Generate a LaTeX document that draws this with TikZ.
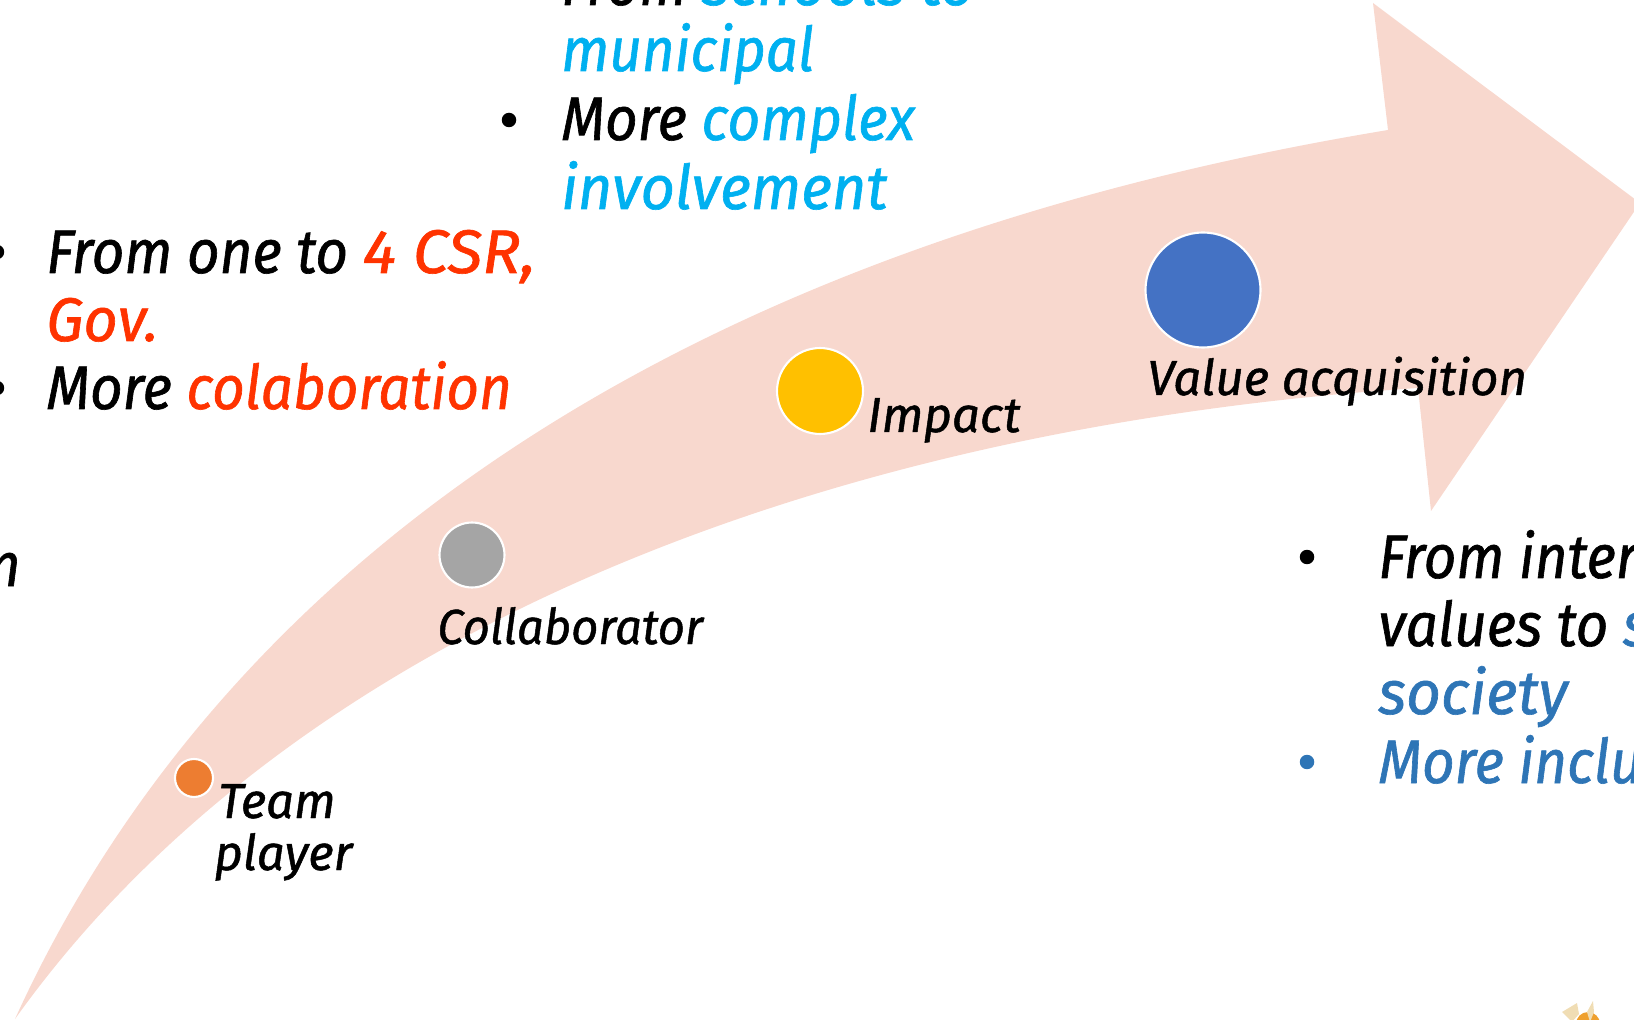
\documentclass[tikz,border=0pt]{standalone}
\usepackage{fontspec}
\setmainfont{Fira Sans}
\newfontfamily\bigfam[FakeStretch=0.92,FakeBold=1.0]{Fira Sans}
\newfontfamily\labfam[FakeBold=1.0]{Fira Sans}
\definecolor{arrowfill}{HTML}{F8D8CE}
\definecolor{cyanw}{HTML}{00B0F0}
\definecolor{redw}{HTML}{FF3300}
\definecolor{bluew}{HTML}{2E75B6}
\definecolor{tanw}{HTML}{F0DDB4}
\definecolor{goldw}{HTML}{EFA02E}
\definecolor{orangew}{HTML}{ED7D31}
\definecolor{grayw}{HTML}{A5A5A5}
\definecolor{yelloww}{HTML}{FFC000}
\definecolor{bluecirc}{HTML}{4472C4}
\newcommand{\wider}[2]{\scalebox{#1}[1]{#2}}
\tikzset{
 x=0.02cm,y=-0.02cm,
 big/.style={anchor=base west,inner sep=0pt,font=\bigfam\fontsize{35}{35}\selectfont\itshape},
 lab/.style={anchor=base west,inner sep=0pt,font=\labfam\fontsize{28}{28}\selectfont\itshape},
 dot/.style={circle,fill,inner sep=0pt,minimum size=0.29cm},
 stage/.style={circle,draw=white,line width=1.2pt,inner sep=0pt},
}
\begin{document}
\begin{tikzpicture}
\path[use as bounding box,clip] (0,0) rectangle (1634,1020);
\fill[arrowfill] (15,1019) .. controls (160,700) and (510,275) .. (1388,130)
  -- (1373,3) -- (1640,203) -- (1431,511) -- (1418,388)
  .. controls (850,425) and (300,620) .. (15,1019) -- cycle;
\node[stage,fill=orangew,minimum size=0.76cm] (c1) at (194,778) {};
\node[stage,fill=grayw,minimum size=1.3cm] (c2) at (472,555) {};
\node[stage,fill=yelloww,minimum size=1.72cm] (c3) at (820,391) {};
\node[stage,fill=bluecirc,minimum size=2.3cm] (c4) at (1203,290) {};
\node[lab] (t1a) at (218,818) {Team};
\node[lab] (t1b) at (214,870) {player};
\node[lab] (t2) at (437,644) {\wider{0.96}{Collaborator}};
\node[lab] (t3) at (867,432) {Impact};
\node[lab] (t4) at (1147,395) {Value acquisition};
\node[big] (a1) at (561,5) {From \textcolor{cyanw}{\wider{1.05}{schools to}}};
\node[big] (a2) at (561,71) {\textcolor{cyanw}{municipal}};
\node[big] (a3) at (561,140) {More \textcolor{cyanw}{\wider{1.01}{complex}}};
\node[big] (a4) at (561,209) {\textcolor{cyanw}{\wider{1.05}{involvement}}};
\node[dot] (ab) at (509,120) {};
\node[big] (b1) at (46,273) {From one to \textcolor{redw}{\wider{1.13}{4 CSR,}}};
\node[big] (b2) at (46,341) {\textcolor{redw}{\wider{1.05}{Gov.}}};
\node[big] (b3) at (46,409) {More \textcolor{redw}{colaboration}};
\node[dot] (bb1) at (-3,252) {};
\node[dot] (bb2) at (-3,388) {};
\node[big,anchor=base east] (n1) at (21,586) {n};
\node[big] (d1) at (1378,578) {From internal};
\node[big] (d2) at (1378,646) {values to \textcolor{bluew}{serve}};
\node[big] (d3) at (1378,714) {\textcolor{bluew}{\wider{1.065}{society}}};
\node[big] (d4) at (1378,783) {\textcolor{bluew}{More inclusive}};
\node[dot] (db1) at (1307,557) {};
\node[dot,fill=bluew] (db2) at (1307,762) {};
\fill[goldw] (1588,1024) circle (12);
\fill[tanw] (1577,1003) -- (1562,1012) -- (1572,1022) -- (1579,1014) -- cycle;
\fill[tanw] (1593,1001) -- (1587,1012) -- (1590,1022) -- (1594,1012) -- cycle;
\end{tikzpicture}
\end{document}
